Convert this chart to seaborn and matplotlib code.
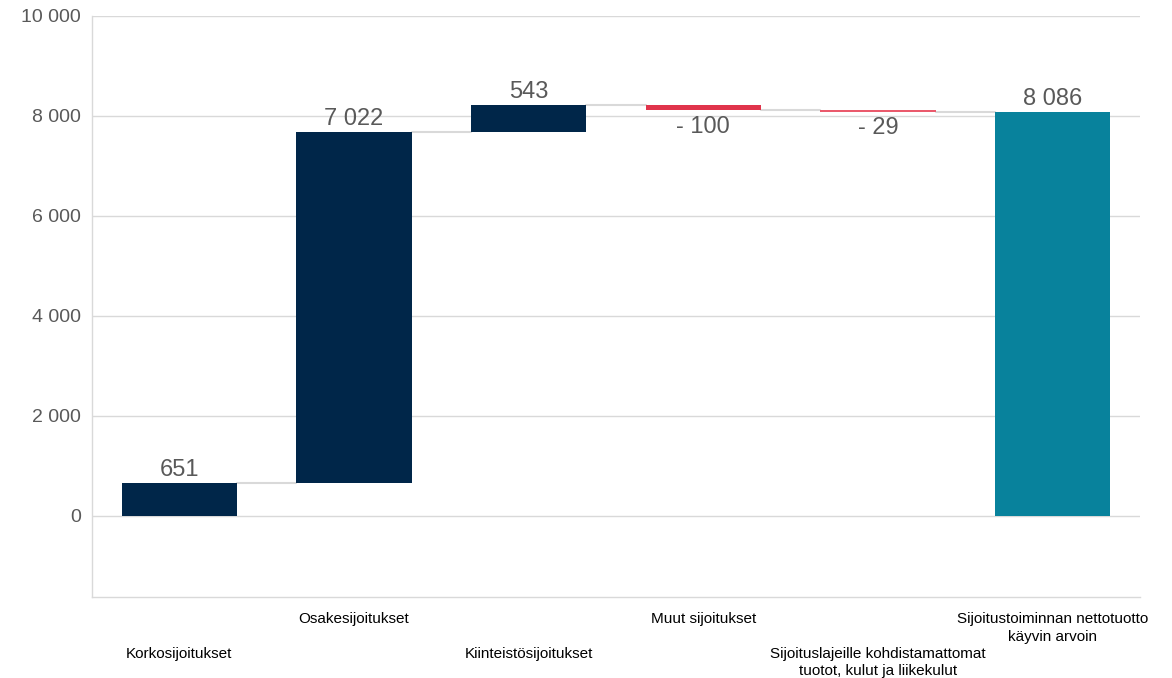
import matplotlib
matplotlib.use("Agg")
import matplotlib.pyplot as plt
import matplotlib.ticker as mticker
import seaborn as sns
import pandas as pd

# data
categories = ["Korkosijoitukset", "Osakesijoitukset", "Kiinteistösijoitukset",
              "Muut sijoitukset",
              "Sijoituslajeille kohdistamattomat\ntuotot, kulut ja liikekulut",
              "Sijoitustoiminnan nettotuotto\nkäyvin arvoin"]
changes = [651, 7022, 543, -100, -29]
total = 8086
colors = ["#002649", "#002649", "#002649", "#E0344B", "#EA5A6C", "#08829C"]
yticks = [0, 2000, 4000, 6000, 8000, 10000]

# waterfall geometry
bottoms, heights, levels = [], [], []
run = 0
for c in changes:
    new = run + c
    bottoms.append(min(run, new))
    heights.append(abs(c))
    levels.append(new)
    run = new
bottoms.append(0)
heights.append(total)

df = pd.DataFrame({"cat": categories, "height": heights, "bottom": bottoms})

sns.set_style("white")
plt.rcParams["font.family"] = ["Liberation Sans", "DejaVu Sans"]

fig = plt.figure(figsize=(11.72, 6.78), dpi=100)
ax = fig.add_axes([0.0785, 0.1195, 0.8942, 0.857])

bw = 0.66
sns.barplot(data=df, x="cat", y="height", bottom=df["bottom"].values,
            color=colors[0], saturation=1, width=bw, errorbar=None, ax=ax,
            zorder=3, linewidth=0)
for p, c in zip(ax.patches, colors):
    p.set_facecolor(c)

# connectors
for i, lv in enumerate(levels):
    ax.plot([i + bw / 2, i + 1 - bw / 2], [lv, lv], color="#d9d9d9", lw=1.5, zorder=2)

# value labels
values = changes + [total]
for i, v in enumerate(values):
    if v >= 0:
        txt = f"{v:,}".replace(",", " ")
        ax.annotate(txt, (i, bottoms[i] + heights[i]), xytext=(0, 1.5),
                    textcoords="offset points", ha="center", va="bottom",
                    fontsize=17, color="#595959")
    else:
        txt = "- " + f"{-v:,}".replace(",", " ")
        ax.annotate(txt, (i, bottoms[i]), xytext=(0, -4),
                    textcoords="offset points", ha="center", va="top",
                    fontsize=17, color="#595959")

ax.set_ylim(-1620, 10000)
ax.set_xlim(-0.5, 5.5)
ax.set_yticks(yticks)
ax.yaxis.set_major_formatter(mticker.FuncFormatter(lambda v, p: f"{v:,.0f}".replace(",", " ")))
ax.tick_params(axis="y", length=0, labelsize=14, labelcolor="#595959", pad=8)
ax.tick_params(axis="x", length=0, labelsize=11, labelcolor="#000000")
ax.set_xticks(range(len(categories)))
ax.set_xticklabels(categories, multialignment="center", linespacing=1.3)
for i, t in enumerate(ax.xaxis.get_major_ticks()):
    t.set_pad(36 if i % 2 == 0 else 11)

ax.grid(axis="y", color="#d9d9d9", lw=1, zorder=0)
ax.set_axisbelow(True)
for s in ["top", "right"]:
    ax.spines[s].set_visible(False)
for s in ["left", "bottom"]:
    ax.spines[s].set_color("#d9d9d9")
    ax.spines[s].set_linewidth(1)
ax.set_xlabel("")
ax.set_ylabel("")

fig.savefig("out.png", dpi=100)
